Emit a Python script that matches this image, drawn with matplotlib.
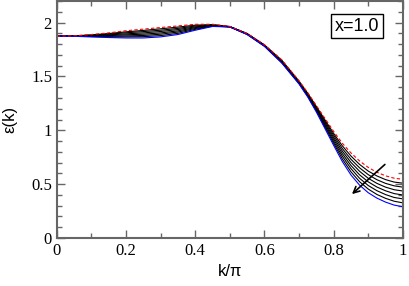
import numpy as np
from matplotlib import pyplot as plt
from matplotlib.ticker import MultipleLocator

# k/pi grid (denser on the steep tail)
k = [0.0, 0.05, 0.1, 0.15, 0.2, 0.25, 0.3, 0.35, 0.4, 0.45, 0.5,
     0.55, 0.6, 0.65, 0.7, 0.725, 0.75, 0.775, 0.8, 0.825, 0.85,
     0.875, 0.9, 0.925, 0.95, 0.975, 1.0]

# top curve (red, dashed)
eps_red = [1.875, 1.878, 1.890, 1.905, 1.925, 1.940, 1.955, 1.970, 1.985, 1.985, 1.965,
           1.900, 1.795, 1.655, 1.460, 1.350, 1.230, 1.110, 0.990, 0.880, 0.790,
           0.715, 0.655, 0.610, 0.577, 0.555, 0.545]

# black curves, top to bottom
eps_b1 = [1.875, 1.877, 1.887, 1.899, 1.915, 1.928, 1.943, 1.959, 1.977, 1.982, 1.964,
          1.899, 1.793, 1.651, 1.456, 1.344, 1.221, 1.096, 0.971, 0.856, 0.761,
          0.683, 0.621, 0.576, 0.542, 0.519, 0.509]
eps_b2 = [1.875, 1.876, 1.884, 1.893, 1.906, 1.917, 1.930, 1.947, 1.969, 1.979, 1.963,
          1.897, 1.791, 1.646, 1.451, 1.339, 1.213, 1.083, 0.953, 0.831, 0.731,
          0.651, 0.588, 0.541, 0.507, 0.484, 0.472]
eps_b3 = [1.875, 1.875, 1.881, 1.887, 1.896, 1.905, 1.918, 1.936, 1.961, 1.976, 1.963,
          1.896, 1.789, 1.642, 1.447, 1.333, 1.204, 1.069, 0.934, 0.807, 0.702,
          0.619, 0.554, 0.507, 0.472, 0.448, 0.436]
eps_b4 = [1.875, 1.874, 1.877, 1.880, 1.887, 1.893, 1.905, 1.924, 1.954, 1.974, 1.962,
          1.894, 1.786, 1.638, 1.443, 1.327, 1.196, 1.056, 0.916, 0.783, 0.673,
          0.586, 0.521, 0.473, 0.438, 0.412, 0.399]
eps_b5 = [1.875, 1.874, 1.874, 1.874, 1.877, 1.881, 1.893, 1.913, 1.946, 1.971, 1.961,
          1.893, 1.784, 1.634, 1.439, 1.321, 1.187, 1.042, 0.897, 0.759, 0.644,
          0.554, 0.487, 0.439, 0.403, 0.376, 0.363]
eps_b6 = [1.875, 1.873, 1.871, 1.868, 1.868, 1.870, 1.880, 1.901, 1.938, 1.968, 1.961,
          1.891, 1.782, 1.629, 1.434, 1.316, 1.179, 1.029, 0.879, 0.734, 0.614,
          0.522, 0.454, 0.404, 0.368, 0.341, 0.326]

# bottom curve (blue)
eps_blue = [1.875, 1.873, 1.868, 1.862, 1.858, 1.858, 1.868, 1.890, 1.930, 1.965, 1.960,
            1.890, 1.780, 1.625, 1.430, 1.310, 1.170, 1.015, 0.860, 0.710, 0.585,
            0.490, 0.420, 0.370, 0.333, 0.305, 0.290]

blacks = [eps_b1, eps_b2, eps_b3, eps_b4, eps_b5, eps_b6]

fig = plt.figure(figsize=(4.09, 2.86), dpi=100)
ax = fig.add_axes([0.139, 0.168, 0.846, 0.828])

for e in blacks:
    ax.plot(k, e, color='black', lw=0.8)
ax.plot(k, eps_blue, color='blue', lw=0.8)
ax.plot(k, eps_red, color='red', lw=0.8, ls=(0, (3, 2)))

ax.annotate('', xy=(0.847, 0.39), xytext=(0.954, 0.70),
            arrowprops=dict(arrowstyle='->', color='black', lw=1.2, mutation_scale=11))

ax.text(0.867, 0.894, 'x=1.0', transform=ax.transAxes, ha='center', va='center',
        fontsize=13, family='Liberation Sans',
        bbox=dict(boxstyle='square,pad=0.2', fc='white', ec='black', lw=1.0))

ax.set_xlim(0, 1)
ax.set_ylim(0, 2.2)
ax.xaxis.set_minor_locator(MultipleLocator(0.1))
ax.yaxis.set_minor_locator(MultipleLocator(0.1))
ax.set_xticks([0, 0.2, 0.4, 0.6, 0.8, 1.0])
ax.set_xticklabels(['0', '0.2', '0.4', '0.6', '0.8', '1'])
ax.set_yticks([0, 0.5, 1, 1.5, 2])
ax.set_yticklabels(['0', '0.5', '1', '1.5', '2'])

ax.tick_params(which='both', direction='in', top=True, right=True, color='#666666')
ax.tick_params(which='major', length=6, width=1.0)
ax.tick_params(which='minor', length=3.5, width=1.0)
for lab in ax.get_xticklabels() + ax.get_yticklabels():
    lab.set_family('Liberation Serif')
    lab.set_fontsize(12)
for s in ax.spines.values():
    s.set_color('#666666')
    s.set_linewidth(1.5)

ax.set_xlabel('k/\u03c0', fontsize=12, family='Liberation Sans', labelpad=4)
ax.set_ylabel('\u03b5(k)', fontsize=12, family='Liberation Sans', labelpad=10)

fig.savefig('out.png', dpi=100)
